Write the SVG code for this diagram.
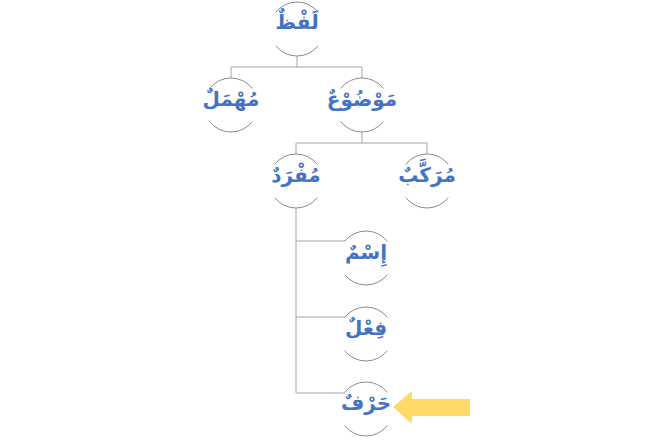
<svg xmlns="http://www.w3.org/2000/svg" width="659" height="441" viewBox="0 0 659 441">
<style>
.arc{fill:none;stroke:#8C8C8C;stroke-width:1}
.con{fill:none;stroke:#A6A6A6;stroke-width:1}
.lbl{font-family:"DejaVu Sans",sans-serif;font-weight:bold;font-size:20px;fill:#4472C4;text-anchor:middle}
</style>
<defs>
<g id="ring">
<path class="arc" d="M-21.3,-16.6 A27,27 0 0 1 21.3,-16.6"/>
<path class="arc" d="M-21.3,16.6 A27,27 0 0 0 21.3,16.6"/>
</g>
</defs>
<rect width="659" height="441" fill="#FFFFFF"/>
<g id="connectors">
<path class="con" d="M297,56 V67 M231,67 H362 M231,67 V78 M362,67 V78"/>
<path class="con" d="M362,132 V143 M296,143 H427 M296,143 V154 M427,143 V154"/>
<path class="con" d="M296,208 V393 M296,241 H345 M296,317 H345 M296,393 H345"/>
</g>
<g id="n-lafz"><use href="#ring" x="297" y="29"/><text class="lbl" x="297" y="29">لَفْظٌ</text></g>
<g id="n-muhmal"><use href="#ring" x="231" y="105"/><text class="lbl" x="231" y="106">مُهْمَلٌ</text></g>
<g id="n-mawdu"><use href="#ring" x="362" y="105"/><text class="lbl" x="362" y="106">مَوْضُوْعٌ</text></g>
<g id="n-mufrad"><use href="#ring" x="296" y="181"/><text class="lbl" x="296" y="182">مُفْرَدٌ</text></g>
<g id="n-murakkab"><use href="#ring" x="427" y="181"/><text class="lbl" x="427" y="182">مُرَكَّبٌ</text></g>
<g id="n-ism"><use href="#ring" x="366" y="258"/><text class="lbl" x="366" y="259">إِسْمٌ</text></g>
<g id="n-fil"><use href="#ring" x="366" y="334"/><text class="lbl" x="366" y="335">فِعْلٌ</text></g>
<g id="n-harf"><use href="#ring" x="366" y="409"/><text class="lbl" x="366" y="410">حَرْفٌ</text></g>
<g id="arrow"><polygon points="393,407 412,391 412,399 470,399 470,416 412,416 412,424" fill="#FFD966"/></g>
</svg>
